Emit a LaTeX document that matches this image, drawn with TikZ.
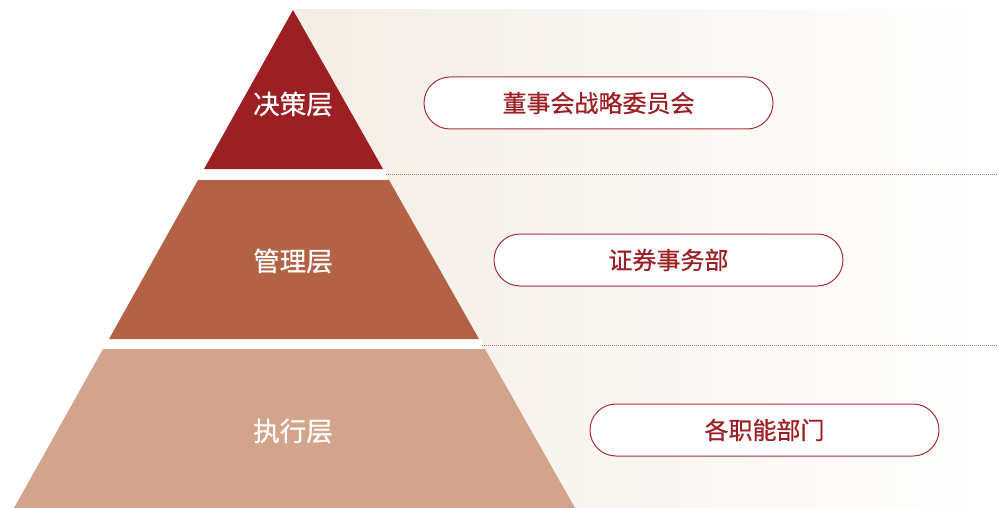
\documentclass[tikz,border=0pt]{standalone}
\usepackage{fontspec}
\newfontfamily\cjk[FakeBold=0.6]{Noto Sans CJK SC}
\definecolor{topred}{HTML}{9C1F24}
\definecolor{midred}{HTML}{B36246}
\definecolor{lowred}{HTML}{D3A48C}
\definecolor{bgbeige}{HTML}{F4EDE5}
\definecolor{pillline}{HTML}{A83038}
\definecolor{pilltext}{HTML}{9C1F24}
\tikzset{
  layerlabel/.style={text=white, font=\cjk\fontsize{26.5}{30}\selectfont},
  pill/.style={draw=pillline, line width=1pt, fill=white, rounded corners=26pt,
    minimum width=349pt, minimum height=52pt, text=pilltext,
    font=\cjk\fontsize{24}{28}\selectfont},
  sep/.style={draw=pillline!70, line width=0.9pt, dash pattern=on 1pt off 1pt}
}
\begin{document}
\begin{tikzpicture}[x=1pt,y=-1pt]
\useasboundingbox (0,0) rectangle (998,508);
\fill[left color=bgbeige, right color=white] (293,10) rectangle (988,508);
% white gaps between layers
\fill[white] (0,169) rectangle (386,180);
\fill[white] (0,339) rectangle (482,349);
% pyramid
\fill[topred] (293,10) -- (383,169) -- (204,169) -- cycle;
\fill[midred] (198,180) -- (389,180) -- (479,339) -- (109,339) -- cycle;
\fill[lowred] (103,349) -- (485,349) -- (575,508) -- (14,508) -- cycle;
\node[layerlabel] (l1) at (293,104) {决策层};
\node[layerlabel] (l2) at (293,261) {管理层};
\node[layerlabel] (l3) at (293,431) {执行层};
% separators
\coordinate (s1a) at (386,174); \coordinate (s1b) at (998,174);
\coordinate (s2a) at (482,345); \coordinate (s2b) at (998,345);
\draw[sep] (s1a) -- (s1b);
\draw[sep] (s2a) -- (s2b);
% pills
\node[pill] (p1) at (598.5,103) {董事会战略委员会};
\node[pill] (p2) at (668.5,260) {证券事务部};
\node[pill] (p3) at (764.5,430) {各职能部门};
\end{tikzpicture}
\end{document}
